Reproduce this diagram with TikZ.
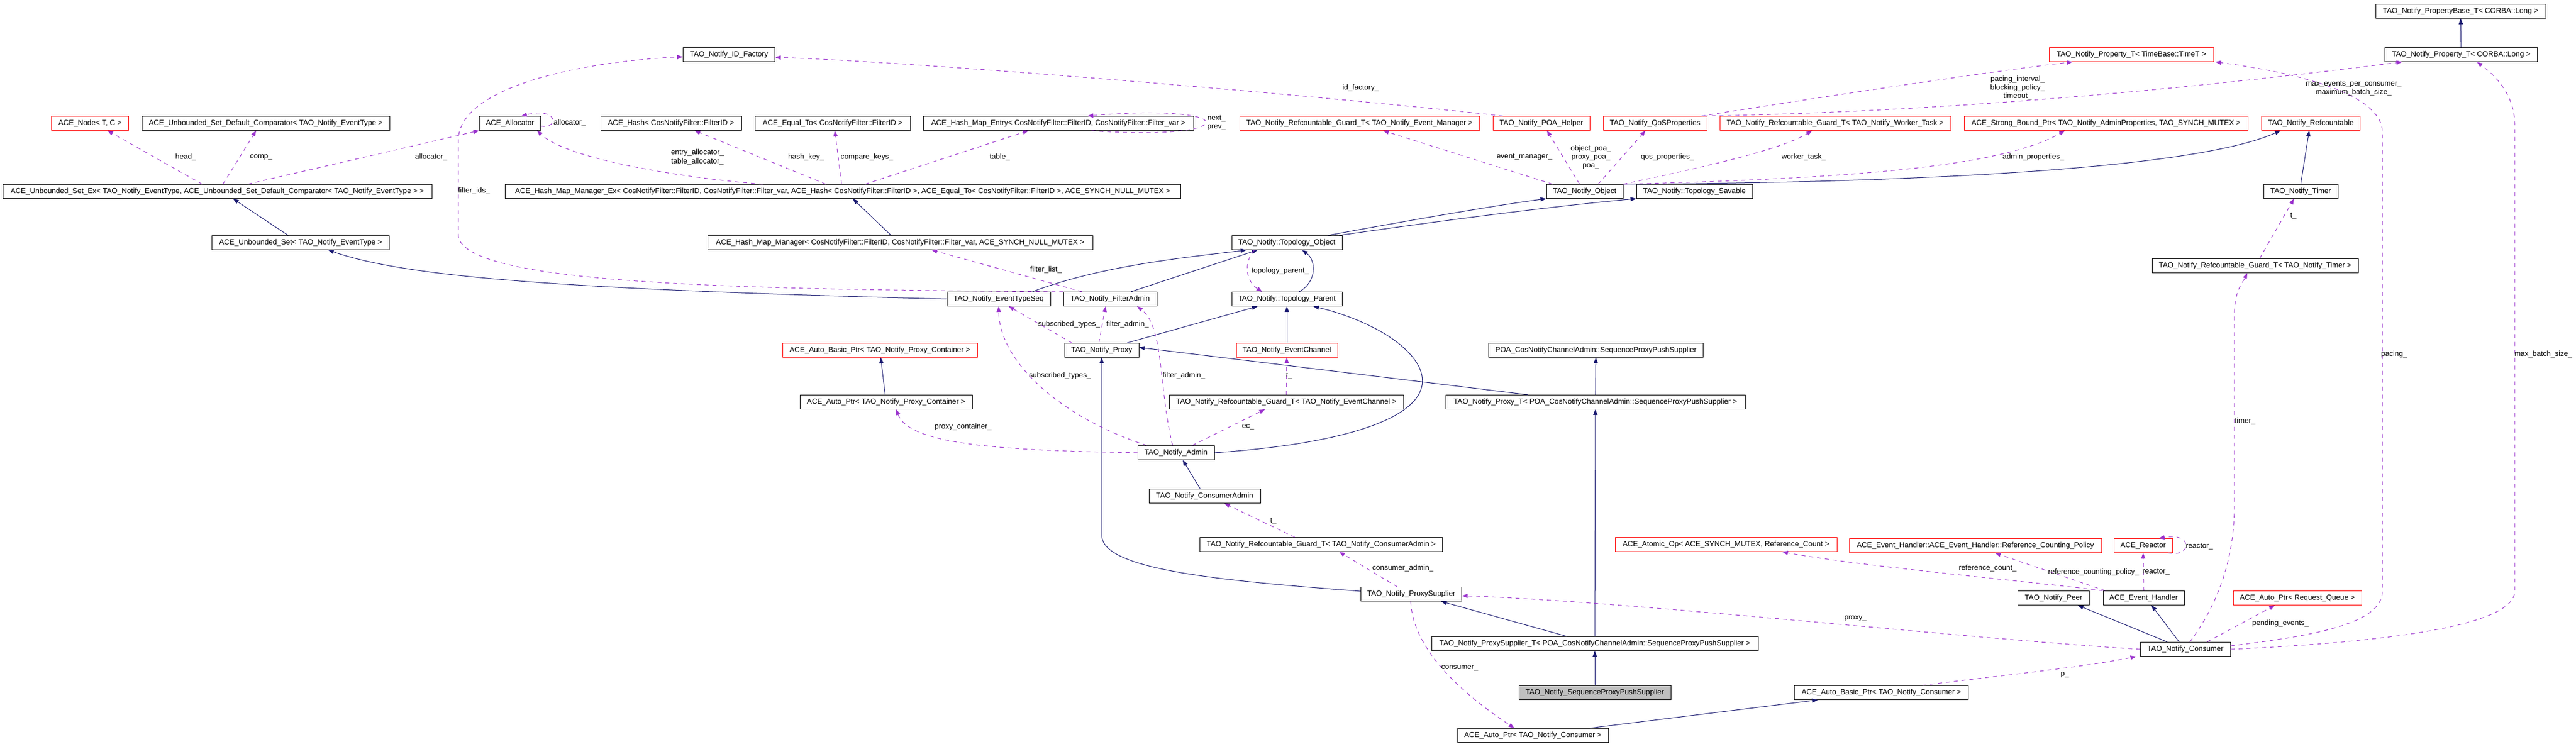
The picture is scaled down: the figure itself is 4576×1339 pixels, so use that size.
\documentclass[tikz,border=0pt]{standalone}
\usepackage{fontspec}
\usepackage{tikz}
\usetikzlibrary{positioning,calc,arrows.meta}
\newfontfamily\doxfont{Liberation Sans}
\newcommand{\dxf}{\doxfont\fontsize{3.75}{4.3}\selectfont}
\definecolor{inhblue}{HTML}{191970}
\definecolor{usepurple}{HTML}{9A32CD}
\definecolor{mainfill}{HTML}{BFBFBF}

\begin{document}
\begin{tikzpicture}[x=0.1mm,y=-0.1mm,
	cls/.style={draw=black,fill=white,line width=0.1mm,minimum height=2.5mm,inner sep=0pt,font=\dxf},
	redcls/.style={cls,draw=red},
	inh/.style={draw=inhblue,line width=0.1mm,-{Triangle[length=1mm,width=0.75mm]}},
	use/.style={draw=usepurple,line width=0.1mm,dash pattern=on 0.7mm off 0.7mm,-{Triangle[length=1mm,width=0.75mm]}},
	lbl/.style={font=\dxf,inner sep=0pt,align=center}]

						\fill[white] (0,0) rectangle (4576,1339);
						\useasboundingbox (0,0) rectangle (4576,1339);

						\node[cls,minimum width=30.2mm] (pbase) at (4371,20) {TAO\_Notify\_PropertyBase\_T< CORBA::Long >};
						\node[cls,minimum width=16.3mm] (idf) at (1295,97) {TAO\_Notify\_ID\_Factory};
						\node[redcls,minimum width=29.2mm] (ptime) at (3786,97) {TAO\_Notify\_Property\_T< TimeBase::TimeT >};
						\node[cls,minimum width=27.1mm] (plong) at (4372,97) {TAO\_Notify\_Property\_T< CORBA::Long >};

						\node[redcls,minimum width=13.7mm] (anode) at (160,219) {ACE\_Node< T, C >};
						\node[cls,minimum width=44mm] (acmp) at (472,219) {ACE\_Unbounded\_Set\_Default\_Comparator< TAO\_Notify\_EventType >};
						\node[cls,minimum width=10.9mm] (alloc) at (906,219) {ACE\_Allocator};
						\node[cls,minimum width=25mm] (ahash) at (1192,219) {ACE\_Hash< CosNotifyFilter::FilterID >};
						\node[cls,minimum width=27.6mm] (aeq) at (1479,219) {ACE\_Equal\_To< CosNotifyFilter::FilterID >};
						\node[cls,minimum width=48mm] (aentry) at (1880,219) {ACE\_Hash\_Map\_Entry< CosNotifyFilter::FilterID, CosNotifyFilter::Filter\_var >};
						\node[redcls,minimum width=42.6mm] (gevm) at (2415,219) {TAO\_Notify\_Refcountable\_Guard\_T< TAO\_Notify\_Event\_Manager >};
						\node[redcls,minimum width=17.2mm] (poah) at (2738,219) {TAO\_Notify\_POA\_Helper};
						\node[redcls,minimum width=18.4mm] (qos) at (2940,219) {TAO\_Notify\_QoSProperties};
						\node[redcls,minimum width=41mm] (gwrk) at (3260,219) {TAO\_Notify\_Refcountable\_Guard\_T< TAO\_Notify\_Worker\_Task >};
						\node[redcls,minimum width=50.4mm] (sbp) at (3741,219) {ACE\_Strong\_Bound\_Ptr< TAO\_Notify\_AdminProperties, TAO\_SYNCH\_MUTEX >};
						\node[redcls,minimum width=17.5mm] (refc) at (4105,219) {TAO\_Notify\_Refcountable};

						\node[cls,minimum width=76.2mm] (usetex) at (386,340) {ACE\_Unbounded\_Set\_Ex< TAO\_Notify\_EventType, ACE\_Unbounded\_Set\_Default\_Comparator< TAO\_Notify\_EventType > >};
						\node[cls,minimum width=120mm] (hmmex) at (1497,340) {ACE\_Hash\_Map\_Manager\_Ex< CosNotifyFilter::FilterID, CosNotifyFilter::Filter\_var, ACE\_Hash< CosNotifyFilter::FilterID >, ACE\_Equal\_To< CosNotifyFilter::FilterID >, ACE\_SYNCH\_NULL\_MUTEX >};
						\node[cls,minimum width=13.6mm] (obj) at (2815,340) {TAO\_Notify\_Object};
						\node[cls,minimum width=20.6mm] (sav) at (3010,340) {TAO\_Notify::Topology\_Savable};
						\node[cls,minimum width=13.2mm] (timer) at (4087,340) {TAO\_Notify\_Timer};

						\node[cls,minimum width=31.5mm] (uset) at (534,431) {ACE\_Unbounded\_Set< TAO\_Notify\_EventType >};
						\node[cls,minimum width=68.4mm] (hmm) at (1599,431) {ACE\_Hash\_Map\_Manager< CosNotifyFilter::FilterID, CosNotifyFilter::Filter\_var, ACE\_SYNCH\_NULL\_MUTEX >};
						\node[cls,minimum width=19.6mm] (tobj) at (2286,431) {TAO\_Notify::Topology\_Object};
						\node[cls,minimum width=36.6mm] (gtmr) at (4006,472) {TAO\_Notify\_Refcountable\_Guard\_T< TAO\_Notify\_Timer >};

						\node[cls,minimum width=18.4mm] (ets) at (1774,531) {TAO\_Notify\_EventTypeSeq};
						\node[cls,minimum width=16.6mm] (fadm) at (1972,531) {TAO\_Notify\_FilterAdmin};
						\node[cls,minimum width=19.6mm] (tpar) at (2286,531) {TAO\_Notify::Topology\_Parent};

						\node[redcls,minimum width=34.6mm] (abpc) at (1563,622) {ACE\_Auto\_Basic\_Ptr< TAO\_Notify\_Proxy\_Container >};
						\node[cls,minimum width=13.2mm] (proxy) at (1957,622) {TAO\_Notify\_Proxy};
						\node[redcls,minimum width=18mm] (ec) at (2286,622) {TAO\_Notify\_EventChannel};
						\node[cls,minimum width=38.1mm] (poa) at (2835,622) {POA\_CosNotifyChannelAdmin::SequenceProxyPushSupplier};

						\node[cls,minimum width=30.6mm] (apc) at (1574,714) {ACE\_Auto\_Ptr< TAO\_Notify\_Proxy\_Container >};
						\node[cls,minimum width=41.6mm] (gec) at (2285,714) {TAO\_Notify\_Refcountable\_Guard\_T< TAO\_Notify\_EventChannel >};
						\node[cls,minimum width=53.2mm] (proxyt) at (2834,714) {TAO\_Notify\_Proxy\_T< POA\_CosNotifyChannelAdmin::SequenceProxyPushSupplier >};

						\node[cls,minimum width=13.6mm] (admin) at (2089,804) {TAO\_Notify\_Admin};
						\node[cls,minimum width=19.8mm] (cadm) at (2140,881) {TAO\_Notify\_ConsumerAdmin};

						\node[cls,minimum width=43.1mm] (gcadm) at (2347,967) {TAO\_Notify\_Refcountable\_Guard\_T< TAO\_Notify\_ConsumerAdmin >};
						\node[redcls,minimum width=39.4mm] (atom) at (3066,967) {ACE\_Atomic\_Op< ACE\_SYNCH\_MUTEX, Reference\_Count >};
						\node[redcls,minimum width=44.8mm] (rcp) at (3509,969) {ACE\_Event\_Handler::ACE\_Event\_Handler::Reference\_Counting\_Policy};
						\node[redcls,minimum width=10.4mm] (reactor) at (3807,969) {ACE\_Reactor};

						\node[cls,minimum width=17.9mm] (psup) at (2507,1055) {TAO\_Notify\_ProxySupplier};
						\node[cls,minimum width=12.7mm] (peer) at (3648,1062) {TAO\_Notify\_Peer};
						\node[cls,minimum width=14.4mm] (evh) at (3808,1062) {ACE\_Event\_Handler};
						\node[redcls,minimum width=22.8mm] (aprq) at (4081,1062) {ACE\_Auto\_Ptr< Request\_Queue >};

						\node[cls,minimum width=58mm] (psupt) at (2833,1143) {TAO\_Notify\_ProxySupplier\_T< POA\_CosNotifyChannelAdmin::SequenceProxyPushSupplier >};
						\node[cls,minimum width=16mm] (cons) at (3882,1153) {TAO\_Notify\_Consumer};
						\node[cls,fill=mainfill,minimum width=27mm] (seq) at (2833,1230) {TAO\_Notify\_SequenceProxyPushSupplier};
						\node[cls,minimum width=30.9mm] (abpcons) at (3342,1230) {ACE\_Auto\_Basic\_Ptr< TAO\_Notify\_Consumer >};
						\node[cls,minimum width=26.8mm] (apcons) at (2723,1306) {ACE\_Auto\_Ptr< TAO\_Notify\_Consumer >};

						\draw[inh] ($(uset.north)+(-22,0)$) -- ($(usetex.south)+(28,0)$);
						\draw[inh] (ets.west) .. controls (1000,514) and (720,492) .. ($(uset.south)+(49,0)$);
						\draw[inh] ($(hmm.north)+(-16,0)$) -- ($(hmmex.south)+(18,0)$);
						\draw[inh] ($(ets.north)+(60,0)$) .. controls (1960,470) and (2120,456) .. ($(tobj.south)+(-72,0)$);
						\draw[inh] ($(fadm.north)+(37,0)$) -- ($(tobj.south)+(-52,0)$);
						\draw[inh] ($(proxy.north)+(45,0)$) -- ($(tpar.south)+(-52,0)$);
						\draw[inh] ($(tpar.north)+(22,0)$) .. controls (2340,500) and (2338,462) .. ($(tobj.south)+(27,0)$);
						\draw[inh] (ec) -- (tpar);
						\draw[inh] (admin.east) .. controls (2420,786) and (2560,730) .. (2520,650) .. controls (2490,595) and (2400,560) .. ($(tpar.south)+(47,0)$);
						\draw[inh] ($(proxyt.north)+(-120,0)$) -- ($(proxy.east)+(0,-5)$);
						\draw[inh] ($(psup.west)+(0,-5)$) .. controls (2150,1030) and (1957,1010) .. (1957,950) -- (proxy.south);
						\draw[inh] ($(tobj.north)+(73,0)$) .. controls (2500,392) and (2660,364) .. (obj.south west);
						\draw[inh] ($(tobj.north)+(93,0)$) .. controls (2600,386) and (2800,362) .. (sav.south west);
						\draw[inh] (obj.north east) .. controls (3400,325) and (3900,300) .. ($(refc.south)+(-54,0)$);
						\draw[inh] (timer.north) -- ($(refc.south)+(-3,0)$);
						\draw[inh] (plong) -- (pbase);
						\draw[inh] ($(cadm.north)+(-8,0)$) -- ($(admin.south)+(12,0)$);
						\draw[inh] ($(psupt.north)+(-50,0)$) -- ($(psup.south)+(53,0)$);
						\draw[inh] (proxyt) -- (poa);
						\draw[inh] (psupt) -- (proxyt);
						\draw[inh] (seq) -- (psupt);
						\draw[inh] ($(apcons.north east)+(-33,0)$) -- ($(abpcons.south)+(-113,0)$);
						\draw[inh] (apc) -- (abpc);
						\draw[inh] ($(cons.north)+(-32,0)$) -- ($(peer.south)+(43,0)$);
						\draw[inh] ($(cons.north)+(-11,0)$) -- ($(evh.south)+(14,0)$);

						\draw[use] ($(usetex.north)+(-27,0)$) -- ($(anode.south)+(31,0)$);
						\draw[use] ($(usetex.north)+(10,0)$) -- ($(acmp.south)+(-17,0)$);
						\draw[use] ($(usetex.north)+(54,0)$) -- (alloc.south west);
						\draw[use] ($(alloc.east)+(0,5)$) .. controls (995,228) and (990,190) .. ($(alloc.north)+(20,0)$);
						\draw[use] ($(hmmex.north)+(-142,0)$) .. controls (1230,318) and (1010,285) .. ($(alloc.south east)+(-7,0)$);
						\draw[use] ($(hmmex.north)+(-30,0)$) -- ($(ahash.south)+(42,0)$);
						\draw[use] ($(hmmex.north)+(-2,0)$) -- ($(aeq.south)+(4,0)$);
						\draw[use] ($(hmmex.north)+(40,0)$) -- ($(aentry.south)+(-53,0)$);
						\draw[use] ($(aentry.south)+(59,0)$) .. controls (2210,252) and (2210,182) .. ($(aentry.north)+(52,0)$);
						\draw[use] ($(fadm.north)+(-50,0)$) -- ($(hmm.south)+(56,0)$);
						\draw[use] (fadm.north west) .. controls (1300,514) and (830,505) .. (814,420) -- (814,250) .. controls (814,150) and (1050,108) .. ($(idf.west)+(0,4)$);
						\draw[use] ($(proxy.north)+(-53,0)$) -- ($(ets.south)+(18,0)$);
						\draw[use] ($(proxy.north)+(-5,0)$) -- ($(fadm.south)+(-8,0)$);
						\draw[use] ($(admin.north)+(-52,0)$) .. controls (1880,740) and (1775,640) .. (ets.south);
						\draw[use] ($(admin.north)+(-6,0)$) .. controls (2058,690) and (2068,580) .. ($(fadm.south)+(48,0)$);
						\draw[use] (admin.west) .. controls (1780,800) and (1615,790) .. ($(apc.south)+(18,0)$);
						\draw[use] ($(admin.north)+(29,0)$) -- ($(gec.south)+(-38,0)$);
						\draw[use] (gec) -- (ec);
						\draw[use] ($(tobj.south)+(-58,0)$) .. controls (2208,468) and (2214,500) .. ($(tpar.north)+(-44,0)$);
						\draw[use] ($(obj.north)+(-57,0)$) -- ($(gevm.south)+(42,0)$);
						\draw[use] ($(obj.north)+(-9,0)$) -- ($(poah.south)+(10,0)$);
						\draw[use] ($(obj.north)+(24,0)$) -- ($(qos.south)+(-17,0)$);
						\draw[use] (obj.north east) .. controls (3010,300) and (3160,268) .. ($(gwrk.south)+(-41,0)$);
						\draw[use] (obj.north east) .. controls (3250,318) and (3550,300) .. ($(sbp.south)+(-73,0)$);
						\draw[use] ($(qos.north east)+(-10,0)$) .. controls (3250,170) and (3550,125) .. ($(ptime.south west)+(42,0)$);
						\draw[use] ($(qos.north east)+(-6,0)$) .. controls (3500,198) and (3950,150) .. ($(plong.south west)+(31,0)$);
						\draw[use] ($(poah.north west)+(18,0)$) .. controls (2300,165) and (1600,108) .. ($(idf.east)+(0,5)$);
						\draw[use] ($(gtmr.north)+(8,0)$) -- ($(timer.south)+(-12,0)$);
						\draw[use] ($(cons.north)+(8,0)$) .. controls (3935,1080) and (3969,1000) .. (3969,900) -- (3969,560) .. controls (3969,515) and (3985,500) .. ($(gtmr.south)+(-14,0)$);
						\draw[use] ($(cons.east)+(0,-6)$) .. controls (4100,1130) and (4232,1110) .. (4232,1050) -- (4232,235) .. controls (4232,160) and (4050,125) .. ($(ptime.south east)+(3,0)$);
						\draw[use] (cons.east) .. controls (4250,1140) and (4467,1110) .. (4467,1050) -- (4467,220) .. controls (4467,160) and (4420,125) .. ($(plong.south)+(28,0)$);
						\draw[use] ($(cons.north east)+(-42,0)$) -- ($(aprq.south)+(-40,0)$);
						\draw[use] ($(evh.north west)+(4,0)$) -- ($(rcp.south)+(35,0)$);
						\draw[use] (evh.north west) .. controls (3600,1032) and (3300,1005) .. ($(atom.south)+(100,0)$);
						\draw[use] (evh.north) -- (reactor.south);
						\draw[use] ($(reactor.south east)+(-8,0)$) .. controls (3895,990) and (3895,945) .. ($(reactor.north)+(28,0)$);
						\draw[use] (cons.west) .. controls (3500,1135) and (2900,1068) .. ($(psup.east)+(0,3)$);
						\draw[use] ($(psup.north)+(-25,0)$) -- ($(gcadm.south)+(32,0)$);
						\draw[use] ($(gcadm.north)+(-47,0)$) -- ($(cadm.south)+(35,0)$);
						\draw[use] ($(psup.south)+(-1,0)$) .. controls (2510,1160) and (2610,1240) .. ($(apcons.north)+(-33,0)$);
						\draw[use] ($(abpcons.north)+(73,0)$) .. controls (3550,1200) and (3700,1185) .. ($(cons.south west)+(-7,0)$);

						\node[lbl] (lhead) at (330,279) {head\_};
						\node[lbl] (lcomp) at (464,279) {comp\_};
						\node[lbl] (lalloc) at (766,279) {allocator\_};
						\node[lbl] (lallocself) at (1012,218) {allocator\_};
						\node[lbl] (lfids) at (842,339) {filter\_ids\_};
						\node[lbl] (lentry) at (1239,279) {entry\_allocator\_\\table\_allocator\_};
						\node[lbl] (lhash) at (1432,279) {hash\_key\_};
						\node[lbl] (lcmp) at (1540,279) {compare\_keys\_};
						\node[lbl] (ltable) at (1776,279) {table\_};
						\node[lbl] (lnext) at (2161,218) {next\_\\prev\_};
						\node[lbl] (lidf) at (2417,156) {id\_factory\_};
						\node[lbl] (levm) at (2708,279) {event\_manager\_};
						\node[lbl] (lpoa) at (2826,279) {object\_poa\_\\proxy\_poa\_\\poa\_};
						\node[lbl] (lqos) at (2962,279) {qos\_properties\_};
						\node[lbl] (lwrk) at (3204,279) {worker\_task\_};
						\node[lbl] (ladmp) at (3612,279) {admin\_properties\_};
						\node[lbl] (lpace) at (3584,156) {pacing\_interval\_\\blocking\_policy\_\\timeout\_};
						\node[lbl] (lmaxev) at (4181,157) {max\_events\_per\_consumer\_\\maximum\_batch\_size\_};
						\node[lbl] (ltt) at (4074,384) {t\_};
						\node[lbl] (lflist) at (1858,479) {filter\_list\_};
						\node[lbl] (ltpar) at (2274,481) {topology\_parent\_};
						\node[lbl] (lsub1) at (1899,576) {subscribed\_types\_};
						\node[lbl] (lfa1) at (2003,576) {filter\_admin\_};
						\node[lbl] (lsub2) at (1883,667) {subscribed\_types\_};
						\node[lbl] (lfa2) at (2103,667) {filter\_admin\_};
						\node[lbl] (lect) at (2290,668) {t\_};
						\node[lbl] (lpc) at (1711,758) {proxy\_container\_};
						\node[lbl] (lec) at (2217,758) {ec\_};
						\node[lbl] (lpacing) at (4253,629) {pacing\_};
						\node[lbl] (lmaxb) at (4518,629) {max\_batch\_size\_};
						\node[lbl] (ltimer) at (3988,748) {timer\_};
						\node[lbl] (lcat) at (2262,926) {t\_};
						\node[lbl] (lcadm) at (2492,1009) {consumer\_admin\_};
						\node[lbl] (lrefc) at (3531,1009) {reference\_count\_};
						\node[lbl] (lrcp) at (3719,1016) {reference\_counting\_policy\_};
						\node[lbl] (lreac) at (3830,1016) {reactor\_};
						\node[lbl] (lreacself) at (3907,971) {reactor\_};
						\node[lbl] (lproxy) at (3296,1098) {proxy\_};
						\node[lbl] (lpend) at (4051,1107) {pending\_events\_};
						\node[lbl] (lcons) at (2593,1186) {consumer\_};
						\node[lbl] (lp) at (3668,1198) {p\_};
					\end{tikzpicture}
\end{document}
